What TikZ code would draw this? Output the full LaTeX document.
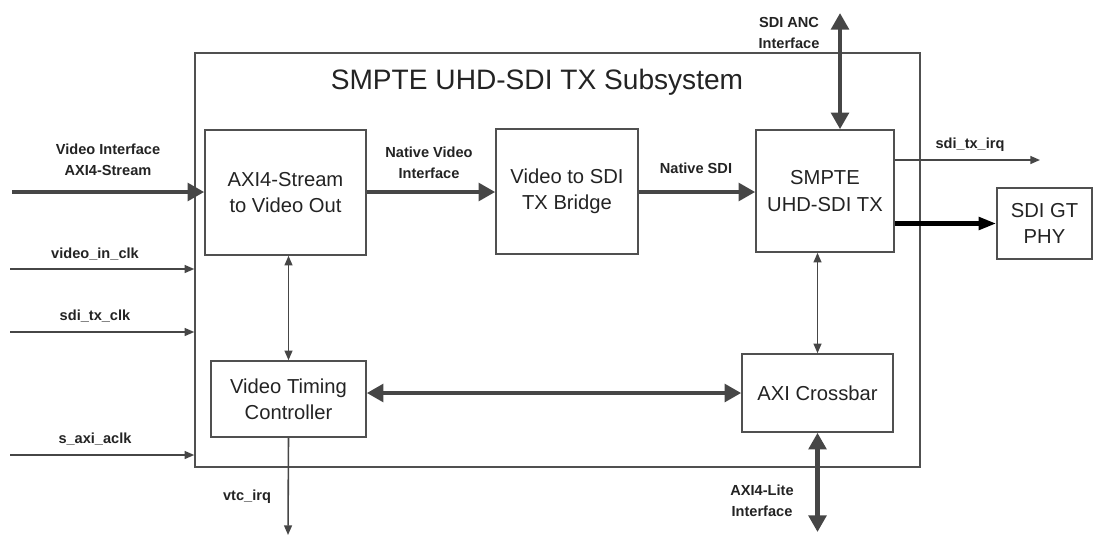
\documentclass[tikz,border=0pt]{standalone}
\usepackage{fontspec}
\setmainfont{Liberation Sans}
\usetikzlibrary{arrows.meta,positioning,calc}
\definecolor{LineGray}{RGB}{70,70,70}
\definecolor{BoxEdge}{RGB}{80,80,80}
\definecolor{TextDark}{RGB}{35,35,35}

\begin{document}
\begin{tikzpicture}[x=0.02cm,y=-0.02cm,
        blk/.style={draw=BoxEdge,line width=0.9pt,text=TextDark,align=center,
                    font=\fontsize{11.5}{15}\selectfont,inner sep=0pt},
        lbl/.style={text=TextDark,align=center,inner sep=0pt,
                    font=\bfseries\fontsize{8.3}{11.8}\selectfont},
        bus/.style={-{Triangle[length=9.5pt,width=10pt]},LineGray,line width=2.4pt},
        bibus/.style={{Triangle[length=9.5pt,width=10pt]}-{Triangle[length=9.5pt,width=10pt]},
                      LineGray,line width=2.4pt},
        sig/.style={-{Triangle[length=5.5pt,width=4.5pt]},LineGray,line width=0.9pt},
        bisig/.style={{Triangle[length=5.5pt,width=4.5pt]}-{Triangle[length=5.5pt,width=4.5pt]},
                      LineGray,line width=0.9pt}
      ]
        \useasboundingbox (0,0) rectangle (1104,538);
        % subsystem frame
        \node[draw=BoxEdge,line width=0.9pt,minimum width=14.5cm,minimum height=8.28cm,
              inner sep=0pt] (sub) at (557.5,260) {};
        \node[text=TextDark,font=\fontsize{16}{19}\selectfont] (title) at (537,82)
          {SMPTE UHD-SDI TX Subsystem};
        % blocks
        \node[blk,minimum width=3.22cm,minimum height=2.5cm] (axis) at (285.5,192.5)
          {AXI4-Stream\\to Video Out};
        \node[blk,minimum width=2.84cm,minimum height=2.5cm] (bridge) at (567,191.5)
          {Video to SDI\\TX Bridge};
        \node[blk,minimum width=2.76cm,minimum height=2.44cm] (uhd) at (825,191)
          {SMPTE\\UHD-SDI TX};
        \node[blk,minimum width=1.9cm,minimum height=1.42cm] (phy) at (1044.5,223.5)
          {SDI GT\\PHY};
        \node[blk,minimum width=3.1cm,minimum height=1.52cm] (vtc) at (288.5,399)
          {Video Timing\\Controller};
        \node[blk,minimum width=3.02cm,minimum height=1.56cm] (xbar) at (817.5,393)
          {AXI Crossbar};
        % free ends
        \coordinate (vin) at (12,192);
        \coordinate (ck1) at (10,269);
        \coordinate (ck2) at (10,332);
        \coordinate (ck3) at (10,455);
        \coordinate (anc) at (840,13);
        \coordinate (irq) at (1040,160);
        \coordinate (lite) at (819,532);
        \coordinate (virq) at (288,535);
        % connectors
        \draw[bus] (vin) -- (vin -| axis.west);
        \draw[sig] (ck1) -- (ck1 -| sub.west);
        \draw[sig] (ck2) -- (ck2 -| sub.west);
        \draw[sig] (ck3) -- (ck3 -| sub.west);
        \draw[bus] (vin -| axis.east) -- (vin -| bridge.west);
        \draw[bus] (vin -| bridge.east) -- (vin -| uhd.west);
        \draw[bibus] (anc) -- (anc |- uhd.north);
        \draw[sig] (irq -| uhd.east) -- (irq);
        \draw[-{Triangle[length=10pt,width=7pt]},black,line width=2.4pt]
          (uhd.east |- phy.west) -- (phy.west);
        \draw[bisig] (vtc.north) -- (vtc.north |- axis.south);
        \draw[bisig] (xbar.north) -- (xbar.north |- uhd.south);
        \draw[bibus] (vtc.east |- xbar.west) -- (xbar.west);
        \draw[bibus] (xbar.south) -- (xbar.south |- lite);
        \draw[sig] (vtc.south) -- (virq);
        % labels
        \node[lbl] at (108,159.5) {Video Interface\\AXI4-Stream};
        \node[lbl] at (95,254) {video\_in\_clk};
        \node[lbl] at (95,316) {sdi\_tx\_clk};
        \node[lbl] at (95,439) {s\_axi\_aclk};
        \node[lbl] at (429,162.5) {Native Video\\Interface};
        \node[lbl] at (696,168) {Native SDI};
        \node[lbl] at (789,33) {SDI ANC\\Interface};
        \node[lbl] at (970,145) {sdi\_tx\_irq};
        \node[lbl] at (247,497) {vtc\_irq};
        \node[lbl] at (762,501) {AXI4-Lite\\Interface};
      \end{tikzpicture}
\end{document}
